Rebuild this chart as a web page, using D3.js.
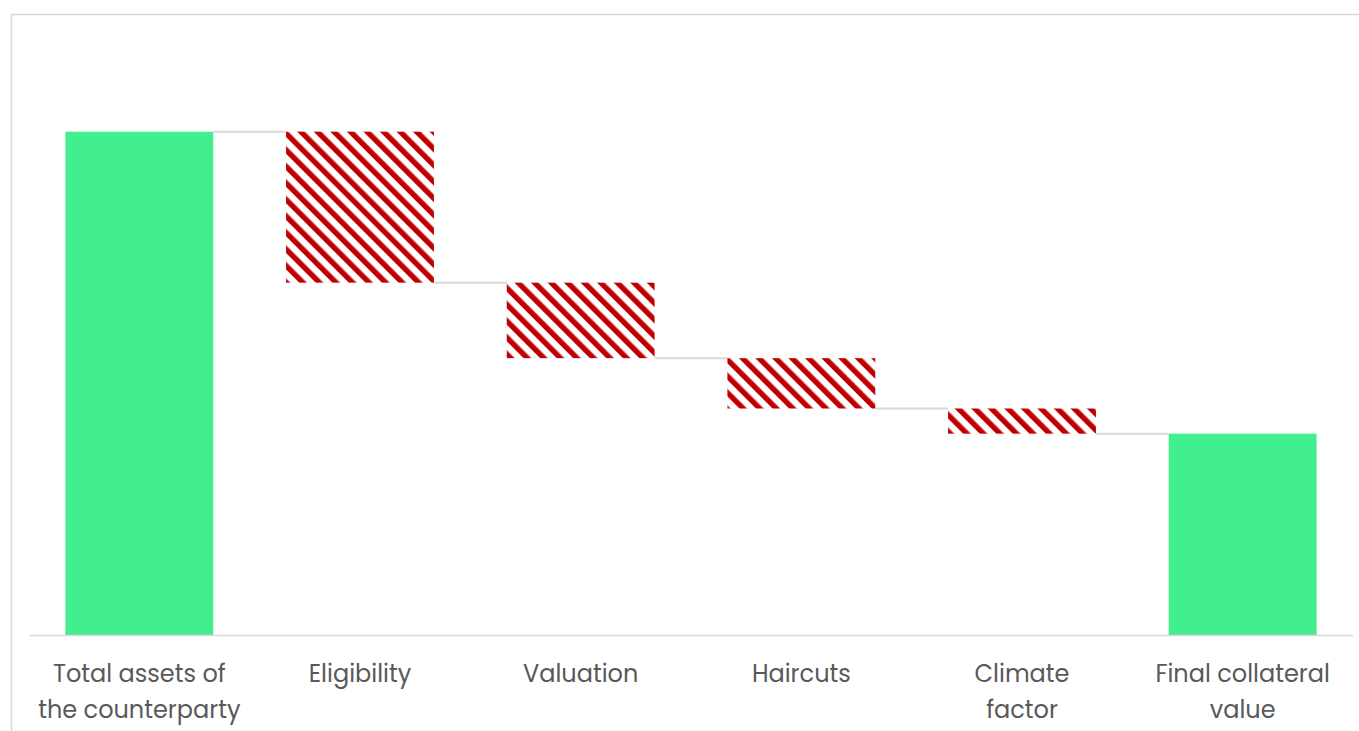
<!DOCTYPE html>
<html>
<head>
<meta charset="utf-8">
<script src="https://cdn.jsdelivr.net/npm/d3@7"></script>
<style>
  html, body { margin: 0; padding: 0; background: #ffffff; }
  svg { display: block; }
</style>
</head>
<body>
<svg id="chart" width="1359" height="731"></svg>
<script>
// Collateral valuation waterfall: starting total, successive reductions, final value
const categories = [
  ["Total assets of", "the counterparty"],
  ["Eligibility"],
  ["Valuation"],
  ["Haircuts"],
  ["Climate", "factor"],
  ["Final collateral", "value"]
];
const kinds = ["total", "decrease", "decrease", "decrease", "decrease", "total"];
const values = [100, 30, 15, 10, 5, 40];

const width = 1359, height = 731;
const margin = { left: 29, right: 6, top: 31, bottom: 96 };
const svg = d3.select("#chart");

// Outer frame of the chart area
svg.append("rect")
  .attr("x", 11.5).attr("y", 14.5)
  .attr("width", 1400).attr("height", 800)
  .attr("fill", "none")
  .attr("stroke", "#d9d9d9")
  .attr("stroke-width", 1.5);

// Diagonal red hatch for the reduction steps
const defs = svg.append("defs");
const pat = defs.append("pattern")
  .attr("id", "hatch")
  .attr("patternUnits", "userSpaceOnUse")
  .attr("width", 11.7).attr("height", 11.7)
  .attr("patternTransform", "rotate(-45)");
pat.append("rect").attr("width", 11.7).attr("height", 11.7).attr("fill", "#ffffff");
pat.append("rect").attr("x", 0).attr("width", 5.4).attr("height", 11.7).attr("fill", "#c00000");

const x = d3.scaleBand()
  .domain(d3.range(categories.length))
  .range([margin.left, width - margin.right])
  .paddingInner(0.33)
  .paddingOuter(0.165);

const y = d3.scaleLinear()
  .domain([0, 120])
  .range([height - margin.bottom, margin.top]);

// Compute the floating segments of the waterfall
let running = 0;
const segs = values.map((v, i) => {
  let lo, hi;
  if (kinds[i] === "total") { lo = 0; hi = v; running = v; }
  else { hi = running; lo = running - v; running = lo; }
  return { i, lo, hi, kind: kinds[i], level: running };
});

// Connector lines between consecutive steps
const g = svg.append("g");
segs.slice(0, -1).forEach((s, k) => {
  const next = segs[k + 1];
  const lvl = s.kind === "total" ? s.hi : s.lo;
  g.append("line")
    .attr("x1", x(s.i) + x.bandwidth())
    .attr("x2", x(next.i))
    .attr("y1", y(lvl)).attr("y2", y(lvl))
    .attr("stroke", "#d9d9d9")
    .attr("stroke-width", 2);
});

g.selectAll("rect.bar")
  .data(segs)
  .join("rect")
  .attr("class", "bar")
  .attr("x", d => x(d.i))
  .attr("width", x.bandwidth())
  .attr("y", d => y(d.hi))
  .attr("height", d => y(d.lo) - y(d.hi))
  .attr("fill", d => d.kind === "total" ? "#41ef8e" : "url(#hatch)");

// Category axis
const axis = svg.append("g")
  .attr("transform", `translate(0,${y(0)})`)
  .call(d3.axisBottom(x).tickSize(0).tickFormat(""));
axis.select(".domain").attr("stroke", "#d9d9d9").attr("stroke-width", 1.5);

const labels = svg.append("g")
  .attr("font-family", "Poppins, 'Open Sans', sans-serif")
  .attr("font-size", 24)
  .attr("fill", "#595959")
  .attr("text-anchor", "middle");
categories.forEach((lines, i) => {
  const t = labels.append("text")
    .attr("x", x(i) + x.bandwidth() / 2)
    .attr("y", y(0) + 47);
  lines.forEach((ln, j) => {
    t.append("tspan")
      .attr("x", x(i) + x.bandwidth() / 2)
      .attr("dy", j === 0 ? 0 : 36)
      .text(ln);
  });
});
</script>
</body>
</html>
